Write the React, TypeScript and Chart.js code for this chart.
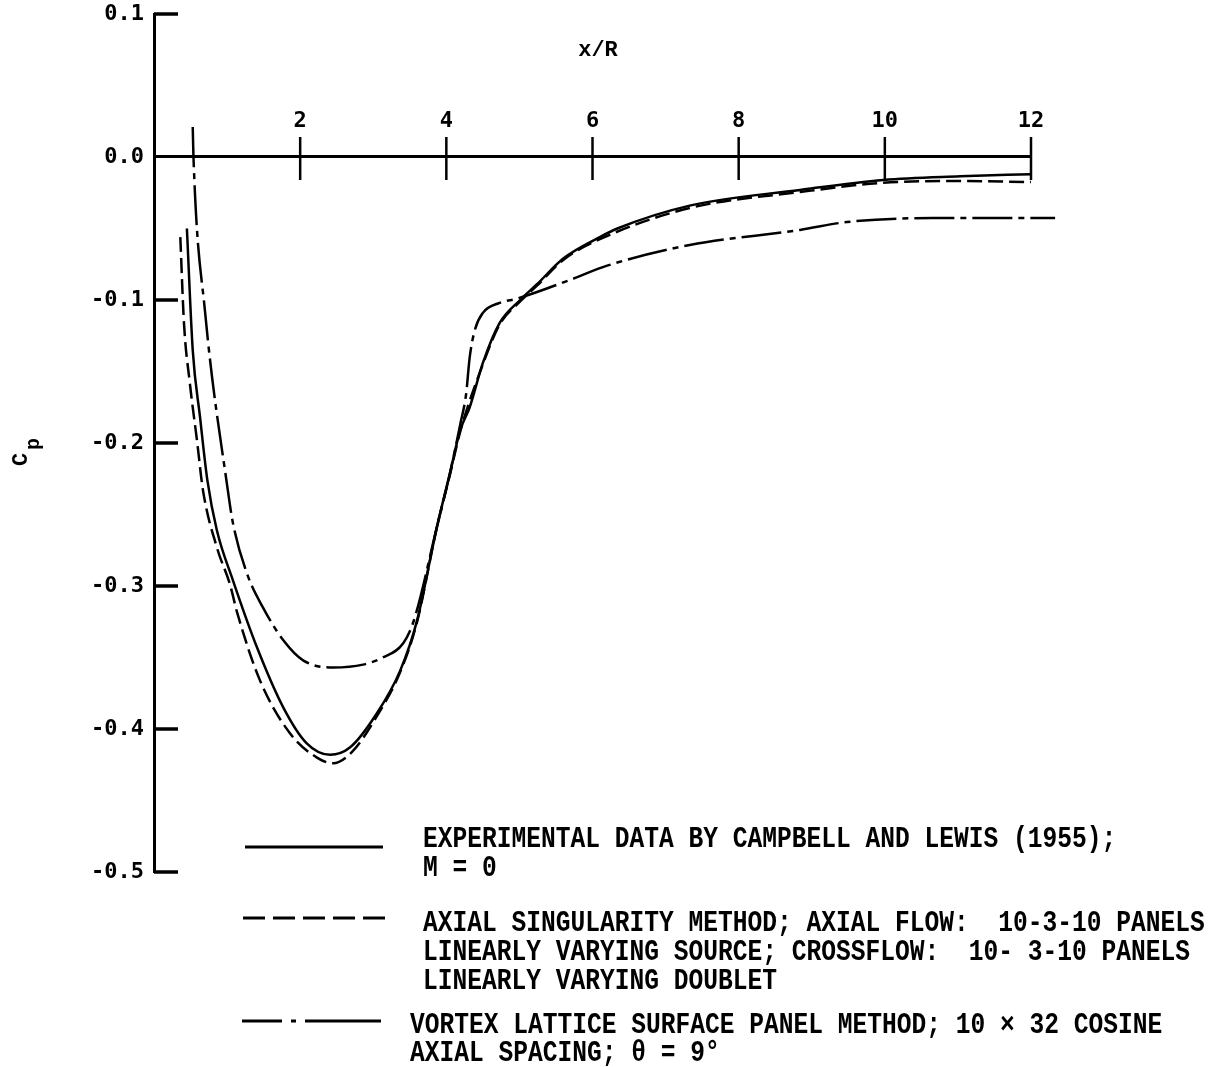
import React, { useEffect, useRef } from 'react';
import { Chart, registerables } from 'chart.js';

Chart.register(...registerables);

// ---- Data ----
const xTickValues = [2, 4, 6, 8, 10, 12];
const yTickValues = [0.1, 0.0, -0.1, -0.2, -0.3, -0.4, -0.5];

// Experimental data by Campbell and Lewis (solid)
const expX = [0.45, 0.53, 0.63, 0.73, 0.86, 1.08, 1.41, 1.77, 2.09, 2.41, 2.68, 3.05, 3.37, 3.6, 3.87, 4.05, 4.19, 4.32, 4.5, 4.73, 5.01, 5.24, 5.6, 6.1, 6.34, 7.33, 8.84, 9.98, 11.03, 12.0];
const expCp = [-0.05, -0.135, -0.182, -0.226, -0.261, -0.296, -0.343, -0.385, -0.41, -0.418, -0.413, -0.389, -0.359, -0.324, -0.259, -0.221, -0.191, -0.175, -0.144, -0.116, -0.1, -0.089, -0.071, -0.056, -0.05, -0.034, -0.023, -0.016, -0.0135, -0.012];

// Axial singularity method (dashed)
const axialX = [0.36, 0.41, 0.49, 0.59, 0.67, 0.86, 1.04, 1.14, 1.45, 1.86, 2.23, 2.45, 2.71, 3.05, 3.37, 3.6, 3.87, 4.05, 4.19, 4.5, 4.73, 5.01, 5.24, 5.6, 6.1, 7.33, 8.84, 9.98, 11.03, 12.0];
const axialCp = [-0.056, -0.116, -0.158, -0.199, -0.233, -0.273, -0.299, -0.319, -0.366, -0.403, -0.42, -0.424, -0.416, -0.391, -0.36, -0.325, -0.259, -0.222, -0.192, -0.145, -0.117, -0.101, -0.09, -0.072, -0.0575, -0.0357, -0.0245, -0.018, -0.0168, -0.0175];

// Vortex lattice surface panel method (dash-dot)
const vortexX = [0.53, 0.54, 0.7, 1.01, 1.08, 1.27, 1.49, 1.77, 2.04, 2.45, 2.86, 3.13, 3.41, 3.55, 3.87, 4.05, 4.19, 4.27, 4.32, 4.39, 4.5, 4.73, 4.97, 5.69, 6.2, 7.33, 8.84, 9.48, 10.66, 12.33];
const vortexCp = [0.021, 0.0, -0.109, -0.233, -0.256, -0.291, -0.315, -0.338, -0.352, -0.357, -0.355, -0.35, -0.34, -0.325, -0.259, -0.221, -0.187, -0.166, -0.14, -0.121, -0.109, -0.102, -0.099, -0.086, -0.076, -0.0615, -0.051, -0.0455, -0.0427, -0.0427];

const legendExperimental = ['EXPERIMENTAL DATA BY CAMPBELL AND LEWIS (1955);', 'M = 0'];
const legendAxial = [
  'AXIAL SINGULARITY METHOD; AXIAL FLOW:  10-3-10 PANELS',
  'LINEARLY VARYING SOURCE; CROSSFLOW:  10- 3-10 PANELS',
  'LINEARLY VARYING DOUBLET',
];
const legendVortex = ['VORTEX LATTICE SURFACE PANEL METHOD; 10 \u00d7 32 COSINE', 'AXIAL SPACING; \u03b8 = 9\u00b0'];

const xTitle = 'x/R';
const yTitleMain = 'C';
const yTitleSub = 'p';

const DASHED = [15, 6];
const DASHDOT = [40, 6, 6, 6];

const MONO = '"Liberation Mono", "DejaVu Sans Mono", monospace';
const SANSMONO = '"DejaVu Sans Mono", "Liberation Mono", monospace';

function toPoints(xs: number[], ys: number[]) {
  return xs.map((x, i) => ({ x, y: ys[i] }));
}

function drawCondensed(ctx: CanvasRenderingContext2D, text: string, x: number, y: number, pitch: number) {
  const w = ctx.measureText(text).width;
  const target = text.length * pitch;
  const sx = w > 0 ? target / w : 1;
  ctx.save();
  ctx.translate(x, y);
  ctx.scale(sx, 1);
  ctx.fillText(text, 0, 0);
  ctx.restore();
}

const decorPlugin = {
  id: 'decor',
  afterDraw(chart: any) {
    const ctx: CanvasRenderingContext2D = chart.ctx;
    const xs = chart.scales.x;
    const ys = chart.scales.y;
    const area = chart.chartArea;
    const y0 = ys.getPixelForValue(0);
    ctx.save();
    ctx.strokeStyle = '#000';
    ctx.fillStyle = '#000';
    ctx.lineCap = 'butt';

    // x tick marks crossing the axis
    ctx.lineWidth = 2.5;
    xTickValues.forEach((v) => {
      const px = xs.getPixelForValue(v);
      ctx.beginPath();
      ctx.moveTo(px, y0 - 20);
      ctx.lineTo(px, y0 + 23);
      ctx.stroke();
    });

    // y tick marks pointing inward
    ctx.lineWidth = 3.5;
    yTickValues.forEach((v) => {
      if (v === 0) return;
      const py = ys.getPixelForValue(v);
      ctx.beginPath();
      ctx.moveTo(area.left, py);
      ctx.lineTo(area.left + 24, py);
      ctx.stroke();
    });

    // axis titles
    ctx.font = 'bold 22px ' + MONO;
    ctx.textAlign = 'center';
    ctx.textBaseline = 'middle';
    ctx.fillText(xTitle, 598, 50);

    ctx.save();
    ctx.translate(27, 466);
    ctx.rotate(-Math.PI / 2);
    ctx.textAlign = 'left';
    ctx.textBaseline = 'alphabetic';
    ctx.font = 'bold 22px ' + MONO;
    ctx.fillText(yTitleMain, 0, 0);
    ctx.font = 'bold 20px ' + MONO;
    ctx.fillText(yTitleSub, 16, 12);
    ctx.restore();

    // legend samples
    ctx.lineWidth = 3;
    ctx.setLineDash([]);
    ctx.beginPath();
    ctx.moveTo(245, 847);
    ctx.lineTo(383, 847);
    ctx.stroke();

    ctx.setLineDash([22, 8]);
    ctx.beginPath();
    ctx.moveTo(243, 918);
    ctx.lineTo(385, 918);
    ctx.stroke();

    ctx.setLineDash([40, 9, 5, 9, 90]);
    ctx.beginPath();
    ctx.moveTo(242, 1021);
    ctx.lineTo(381, 1021);
    ctx.stroke();
    ctx.setLineDash([]);

    // legend text
    ctx.font = 'bold 29px ' + MONO;
    ctx.textAlign = 'left';
    ctx.textBaseline = 'middle';
    const pitch = 14.75;
    legendExperimental.forEach((t, i) => drawCondensed(ctx, t, 423, 840 + i * 29, pitch));
    legendAxial.forEach((t, i) => drawCondensed(ctx, t, 423, 924 + i * 29, pitch));
    legendVortex.forEach((t, i) => drawCondensed(ctx, t, 410, 1026 + i * 28, pitch));

    ctx.restore();
  },
};

export default function App() {
  const canvasRef = useRef<HTMLCanvasElement | null>(null);

  useEffect(() => {
    const canvas = canvasRef.current;
    if (!canvas) return;
    const common = {
      borderColor: '#000',
      backgroundColor: '#000',
      borderWidth: 2.5,
      pointRadius: 0,
      fill: false,
      cubicInterpolationMode: 'monotone' as const,
      clip: false as const,
    };
    const chart = new Chart(canvas, {
      type: 'line',
      data: {
        datasets: [
          { ...common, label: 'Experimental', data: toPoints(expX, expCp) },
          { ...common, label: 'Axial singularity', data: toPoints(axialX, axialCp), borderDash: DASHED },
          { ...common, label: 'Vortex lattice', data: toPoints(vortexX, vortexCp), borderDash: DASHDOT },
        ],
      },
      options: {
        responsive: false,
        animation: false,
        devicePixelRatio: 1,
        layout: { padding: { left: 54, right: 187, top: 14, bottom: 195 } },
        plugins: { legend: { display: false }, tooltip: { enabled: false } },
        scales: {
          x: {
            type: 'linear',
            position: { y: 0 } as any,
            min: 0,
            max: 12,
            afterFit: (s: any) => {
              s.paddingLeft = 0;
              s.paddingRight = 0;
              s.paddingTop = 0;
              s.paddingBottom = 0;
            },
            border: { display: true, color: '#000', width: 3 },
            grid: { display: true, drawOnChartArea: false, drawTicks: false },
            ticks: {
              stepSize: 2,
              padding: -49,
              color: '#000',
              autoSkip: false,
              maxRotation: 0,
              font: { family: SANSMONO, size: 22, weight: 'bold' },
              callback: (v: any) => (Number(v) === 0 ? '' : String(v)),
            },
          },
          y: {
            type: 'linear',
            position: 'left',
            min: -0.5,
            max: 0.1,
            afterFit: (s: any) => {
              s.width = 100;
              s.paddingTop = 0;
              s.paddingBottom = 0;
            },
            border: { display: true, color: '#000', width: 3 },
            grid: { display: true, drawOnChartArea: false, drawTicks: false },
            ticks: {
              stepSize: 0.1,
              padding: 10,
              color: '#000',
              font: { family: SANSMONO, size: 22, weight: 'bold' },
              callback: (v: any) => {
                const n = Number(v);
                return Math.abs(n) < 1e-9 ? '0.0' : n.toFixed(1);
              },
            },
          },
        },
      } as any,
      plugins: [decorPlugin],
    });
    return () => chart.destroy();
  }, []);

  return (
    <div style={{ position: 'absolute', left: 0, top: 0, width: 1218, height: 1067, background: '#fff' }}>
      <canvas ref={canvasRef} width={1218} height={1067} style={{ display: 'block', width: 1218, height: 1067 }} />
    </div>
  );
}
